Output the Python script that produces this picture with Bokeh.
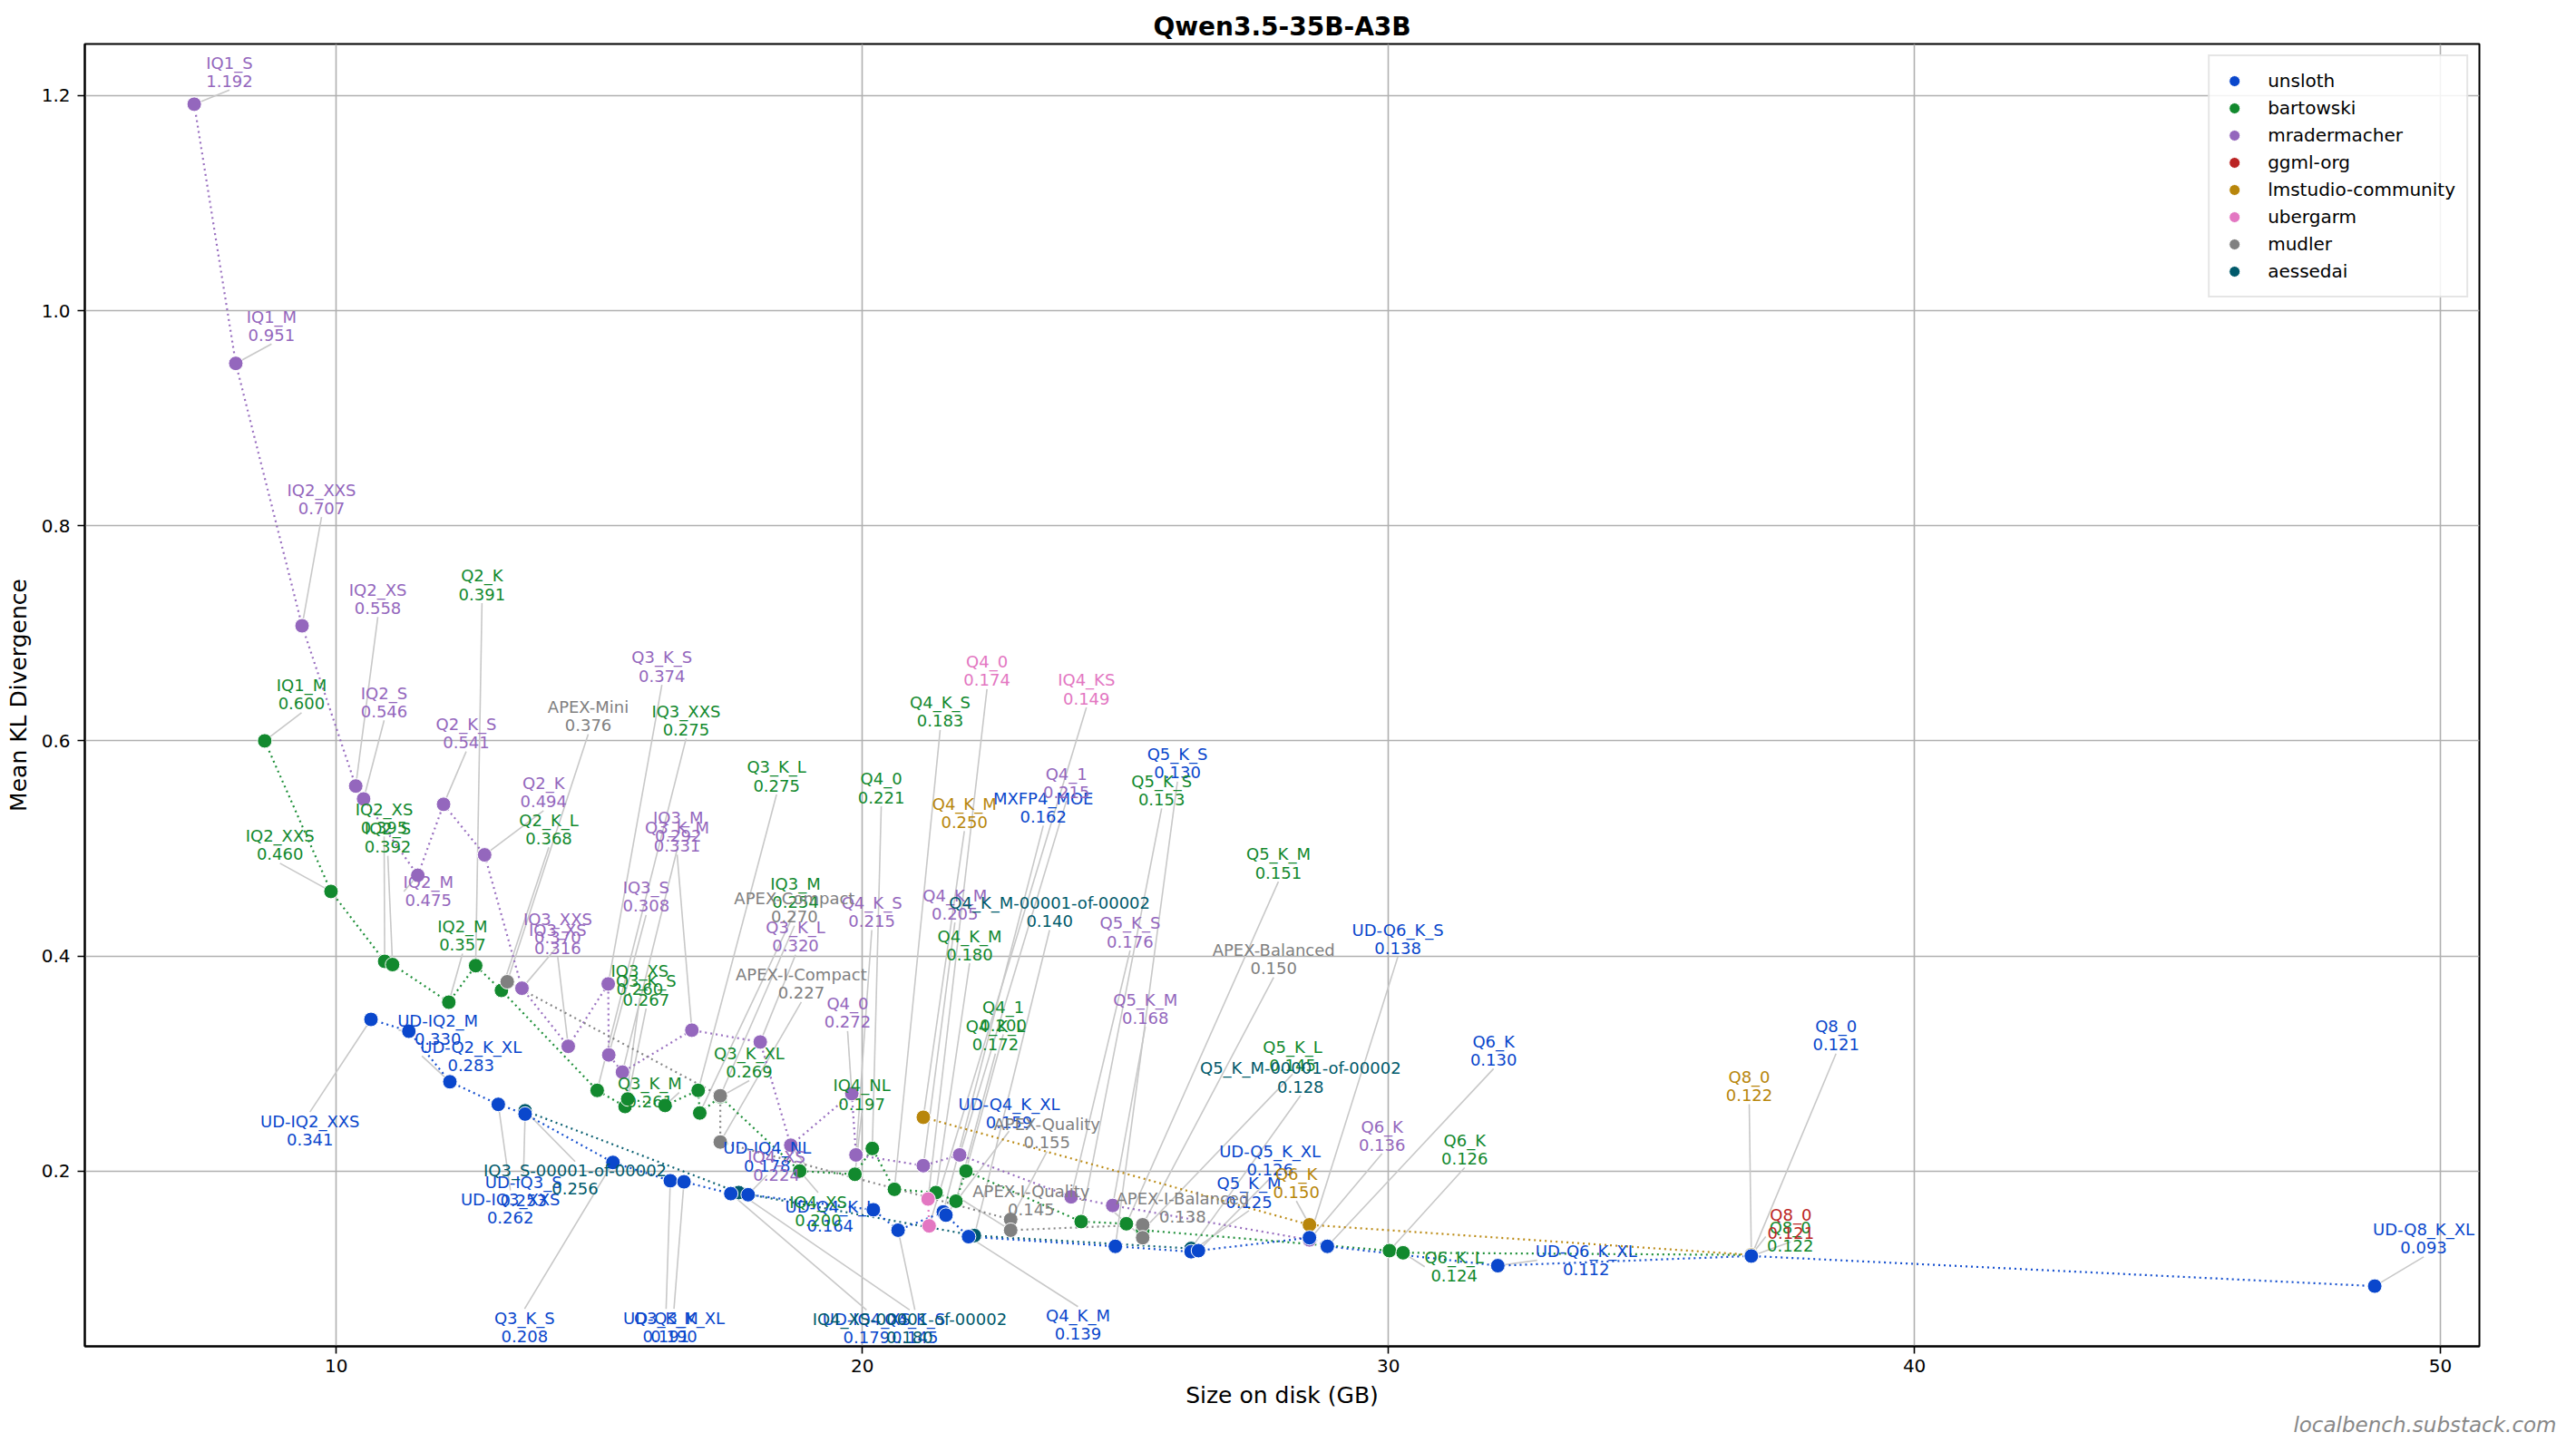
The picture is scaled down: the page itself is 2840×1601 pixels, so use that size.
from bokeh.plotting import figure
from bokeh.models import Legend, LegendItem, Title, FixedTicker, PrintfTickFormatter
from bokeh.core.properties import value
from bokeh.embed import file_html
from bokeh.resources import INLINE

FONT = "DejaVu Sans"

# ---- data: quant name, size on disk (GB), mean KL divergence ----
unsloth_names = ["UD-IQ2_XXS", "UD-IQ2_M", "UD-Q2_K_XL", "UD-IQ3_XXS", "UD-IQ3_S", "Q3_K_S",
                 "Q3_K_M", "UD-Q3_K_XL", "UD-IQ4_XS", "UD-IQ4_NL", "UD-Q4_K_L", "Q4_K_S",
                 "MXFP4_MOE", "UD-Q4_K_XL", "Q4_K_M", "Q5_K_S", "Q5_K_M", "UD-Q5_K_XL",
                 "UD-Q6_K_S", "Q6_K", "UD-Q6_K_XL", "Q8_0", "UD-Q8_K_XL"]
unsloth_size = [10.66, 11.38, 12.16, 13.08, 13.59, 15.26, 16.35, 16.61, 17.50, 17.83, 20.21, 20.68,
                21.54, 21.59, 22.02, 24.81, 26.25, 26.39, 28.50, 28.84, 32.08, 36.90, 48.75]
unsloth_kl = [0.341, 0.330, 0.283, 0.262, 0.253, 0.208, 0.191, 0.190, 0.179, 0.178, 0.164, 0.145,
              0.162, 0.159, 0.139, 0.130, 0.125, 0.126, 0.138, 0.130, 0.112, 0.121, 0.093]

bartowski_names = ["IQ1_M", "IQ2_XXS", "IQ2_XS", "IQ2_S", "IQ2_M", "Q2_K", "Q2_K_L", "IQ3_XXS",
                   "IQ3_XS", "Q3_K_S", "Q3_K_M", "Q3_K_L", "IQ3_M", "Q3_K_XL", "IQ4_XS", "IQ4_NL",
                   "Q4_0", "Q4_K_S", "Q4_K_M", "Q4_K_L", "Q4_1", "Q5_K_S", "Q5_K_M", "Q5_K_L",
                   "Q6_K", "Q6_K_L", "Q8_0"]
bartowski_size = [8.64, 9.90, 10.92, 11.07, 12.14, 12.65, 13.14, 14.96, 15.49, 15.54, 16.25, 16.88,
                  16.91, 17.30, 18.81, 19.86, 20.19, 20.61, 21.40, 21.78, 21.97, 24.16, 25.02, 25.33,
                  30.02, 30.28, 36.90]
bartowski_kl = [0.600, 0.460, 0.395, 0.392, 0.357, 0.391, 0.368, 0.275, 0.260, 0.267, 0.261, 0.275,
                0.254, 0.269, 0.200, 0.197, 0.221, 0.183, 0.180, 0.172, 0.200, 0.153, 0.151, 0.145,
                0.126, 0.124, 0.122]

mrader_names = ["IQ1_S", "IQ1_M", "IQ2_XXS", "IQ2_XS", "IQ2_S", "IQ2_M", "Q2_K_S", "Q2_K", "IQ3_XXS",
                "IQ3_XS", "Q3_K_S", "IQ3_S", "IQ3_M", "Q3_K_M", "Q3_K_L", "IQ4_XS", "Q4_0", "Q4_K_S",
                "Q4_K_M", "Q4_1", "Q5_K_S", "Q5_K_M", "Q6_K"]
mrader_size = [7.30, 8.09, 9.35, 10.37, 10.52, 11.55, 12.04, 12.82, 13.53, 14.41, 15.17, 15.18,
               15.44, 16.76, 18.06, 18.64, 19.80, 19.88, 21.16, 21.85, 23.97, 24.76, 28.50]
mrader_kl = [1.192, 0.951, 0.707, 0.558, 0.546, 0.475, 0.541, 0.494, 0.370, 0.316, 0.374, 0.308,
             0.292, 0.331, 0.320, 0.224, 0.272, 0.215, 0.205, 0.215, 0.176, 0.168, 0.136]

ggml_names = ["Q8_0"]
ggml_size = [36.90]
ggml_kl = [0.121]

lmstudio_names = ["Q4_K_M", "Q6_K", "Q8_0"]
lmstudio_size = [21.16, 28.50, 36.90]
lmstudio_kl = [0.250, 0.150, 0.122]

ubergarm_names = ["Q4_0", "IQ4_KS"]
ubergarm_size = [21.25, 21.27]
ubergarm_kl = [0.174, 0.149]

mudler_names = ["APEX-Mini", "APEX-Compact", "APEX-I-Compact", "APEX-Quality", "APEX-I-Quality",
                "APEX-Balanced", "APEX-I-Balanced"]
mudler_size = [13.25, 17.30, 17.30, 22.82, 22.82, 25.33, 25.33]
mudler_kl = [0.376, 0.270, 0.227, 0.155, 0.145, 0.150, 0.138]

aessedai_names = ["IQ3_S-00001-of-00002", "IQ4_XS-00001-of-00002", "Q4_K_M-00001-of-00002",
                  "Q5_K_M-00001-of-00002"]
aessedai_size = [13.59, 17.65, 22.13, 26.25]
aessedai_kl = [0.256, 0.180, 0.140, 0.128]

# ---- annotation layout: where each label block sits (data coords) ----
unsloth_label_at = [(9.50, 0.238), (11.93, 0.331), (12.56, 0.307), (13.31, 0.165), (13.56, 0.181),
                    (13.58, 0.055), (16.27, 0.055), (16.42, 0.055), (20.08, 0.054), (18.19, 0.213),
                    (19.39, 0.158), (21.00, 0.054), (23.44, 0.538), (22.79, 0.254), (24.10, 0.057),
                    (25.99, 0.579), (27.35, 0.180), (27.75, 0.210), (30.18, 0.416), (32.00, 0.312),
                    (33.76, 0.117), (38.51, 0.326), (49.68, 0.137)]
bartowski_label_at = [(9.34, 0.643), (8.93, 0.503), (10.91, 0.528), (10.98, 0.510), (12.40, 0.419),
                      (12.77, 0.745), (14.04, 0.518), (16.65, 0.619), (15.77, 0.378), (15.89, 0.368),
                      (15.96, 0.273), (18.37, 0.567), (18.73, 0.459), (17.85, 0.301), (19.16, 0.163),
                      (19.99, 0.271), (20.36, 0.556), (21.48, 0.627), (22.04, 0.410), (22.53, 0.326),
                      (22.68, 0.344), (25.69, 0.554), (27.91, 0.486), (28.18, 0.307), (31.45, 0.220),
                      (31.25, 0.111), (37.64, 0.139)]
mrader_label_at = [(7.97, 1.222), (8.77, 0.986), (9.72, 0.825), (10.79, 0.732), (10.91, 0.636),
                   (11.75, 0.460), (12.47, 0.607), (13.94, 0.552), (14.21, 0.426), (14.21, 0.416),
                   (16.19, 0.669), (15.89, 0.455), (16.50, 0.520), (16.48, 0.511), (18.73, 0.418),
                   (18.37, 0.205), (19.72, 0.347), (20.18, 0.441), (21.76, 0.448), (23.88, 0.561),
                   (25.09, 0.422), (25.38, 0.351), (29.88, 0.233)]
ggml_label_at = [(37.65, 0.151)]
lmstudio_label_at = [(21.94, 0.533), (28.25, 0.189), (36.86, 0.279)]
ubergarm_label_at = [(22.37, 0.665), (24.26, 0.648)]
mudler_label_at = [(14.79, 0.623), (18.71, 0.445), (18.84, 0.374), (23.51, 0.235), (23.21, 0.173),
                   (27.82, 0.397), (26.09, 0.166)]
aessedai_label_at = [(14.54, 0.192), (20.90, 0.054), (23.56, 0.441), (28.33, 0.287)]

# legend order
series = [
    ("unsloth", "#0a47cc", unsloth_names, unsloth_size, unsloth_kl, unsloth_label_at),
    ("bartowski", "#12892e", bartowski_names, bartowski_size, bartowski_kl, bartowski_label_at),
    ("mradermacher", "#9467bd", mrader_names, mrader_size, mrader_kl, mrader_label_at),
    ("ggml-org", "#bb2424", ggml_names, ggml_size, ggml_kl, ggml_label_at),
    ("lmstudio-community", "#b8860b", lmstudio_names, lmstudio_size, lmstudio_kl, lmstudio_label_at),
    ("ubergarm", "#e377c2", ubergarm_names, ubergarm_size, ubergarm_kl, ubergarm_label_at),
    ("mudler", "#808080", mudler_names, mudler_size, mudler_kl, mudler_label_at),
    ("aessedai", "#005a6b", aessedai_names, aessedai_size, aessedai_kl, aessedai_label_at),
]

W, H = 2824, 1585
X_RANGE = (5.22, 50.74)
Y_RANGE = (0.037, 1.248)
BORDER_L, BORDER_R, BORDER_T, BORDER_B = 93, 91, 48, 101
PX_X = (W - BORDER_L - BORDER_R) / (X_RANGE[1] - X_RANGE[0])
PX_Y = (H - BORDER_T - BORDER_B) / (Y_RANGE[1] - Y_RANGE[0])
LABEL_PX = 18

p = figure(width=W, height=H, x_range=X_RANGE, y_range=Y_RANGE,
           output_backend="svg", toolbar_location=None,
           min_border_left=BORDER_L, min_border_right=BORDER_R,
           min_border_top=BORDER_T, min_border_bottom=BORDER_B,
           x_axis_label="Size on disk (GB)", y_axis_label="Mean KL Divergence")

p.add_layout(Title(text="Qwen3.5-35B-A3B", align="center", text_font=FONT, text_font_size="28px",
                   text_font_style="bold", text_color="black", standoff=6), "above")

p.xaxis.ticker = FixedTicker(ticks=[10, 20, 30, 40, 50])
p.yaxis.ticker = FixedTicker(ticks=[0.2, 0.4, 0.6, 0.8, 1.0, 1.2])
p.xaxis.formatter = PrintfTickFormatter(format="%d")
p.yaxis.formatter = PrintfTickFormatter(format="%.1f")
p.axis.major_label_text_font = FONT
p.axis.major_label_text_font_size = "20px"
p.axis.major_label_text_color = "black"
p.axis.axis_label_text_font = FONT
p.axis.axis_label_text_font_size = "25px"
p.axis.axis_label_text_font_style = "normal"
p.axis.axis_label_text_color = "black"
p.axis.major_tick_out = 8
p.axis.major_tick_in = 0
p.axis.major_tick_line_width = 1.6
p.axis.major_tick_line_color = "black"
p.axis.minor_tick_line_color = None
p.axis.axis_line_color = "black"
p.axis.axis_line_width = 2
p.xaxis.major_label_standoff = 6
p.yaxis.major_label_standoff = 8
p.xaxis.axis_label_standoff = 8
p.yaxis.axis_label_standoff = 8

p.grid.grid_line_color = "#b0b0b0"
p.grid.grid_line_width = 1.6
p.outline_line_color = "black"
p.outline_line_width = 2
p.background_fill_color = "white"

# site credit under the axis, flush with the right edge of the page
p.add_layout(Title(text="localbench.substack.com", align="right", text_font=FONT,
                   text_font_size="23px", text_font_style="italic", text_color="#888888",
                   standoff=0, offset=-(BORDER_R - 6)), "below")


def label_text(name, kl):
    return f"{name}\n{kl:.3f}"


def leader_end(x, y, lx, ly, text):
    half_h = 20 / PX_Y
    if abs(ly - y) < 0.03:
        half_w = max(len(s) for s in text.split("\n")) * LABEL_PX * 0.6 / 2 / PX_X
        return (lx - half_w if lx > x else lx + half_w), ly
    return lx, (ly - half_h if ly > y else ly + half_h)


# leader lines from every point to its label
x0, y0, x1, y1 = [], [], [], []
for _, _, names, size, kl, lab in series:
    for n, x, y, (lx, ly) in zip(names, size, kl, lab):
        ex, ey = leader_end(x, y, lx, ly, label_text(n, y))
        if ((ex - x) * PX_X) ** 2 + ((ey - y) * PX_Y) ** 2 < 100:
            continue
        x0.append(x); y0.append(y); x1.append(ex); y1.append(ey)
p.segment(x0, y0, x1, y1, line_color="#c8c8c8", line_width=1.6)

# dotted line per publisher, sorted by size, then the points (unsloth on top)
draw_order = series[1:] + series[:1]
renderers = {}
for name, color, names, size, kl, lab in draw_order:
    pts = sorted(zip(size, kl), key=lambda t: t[0])
    if len(pts) > 1:
        p.line([a for a, _ in pts], [b for _, b in pts], line_color=color,
               line_width=2.2, line_dash="2 4", line_alpha=0.95)
for name, color, names, size, kl, lab in draw_order:
    renderers[name] = p.scatter(size, kl, size=16, fill_color=color, line_color="white",
                                line_width=1)

# text labels
for name, color, names, size, kl, lab in series:
    p.text(x=[a for a, _ in lab], y=[b for _, b in lab],
           text=[label_text(n, v) for n, v in zip(names, kl)],
           text_color=color, text_font=value(FONT), text_font_size=f"{LABEL_PX}px",
           text_align="center", text_baseline="middle", text_line_height=0.96)

legend = Legend(items=[LegendItem(label=s[0], renderers=[renderers[s[0]]]) for s in series],
                location="top_right")
legend.label_text_font = FONT
legend.label_text_font_size = "20px"
legend.label_text_color = "black"
legend.glyph_width = 30
legend.glyph_height = 30
legend.label_height = 28
legend.spacing = 0
legend.label_standoff = 22
legend.padding = 12
legend.margin = 12
legend.border_line_color = "#cccccc"
legend.border_line_width = 2
legend.background_fill_alpha = 0.85
p.add_layout(legend)

open("out.html", "w").write(file_html(p, INLINE))
